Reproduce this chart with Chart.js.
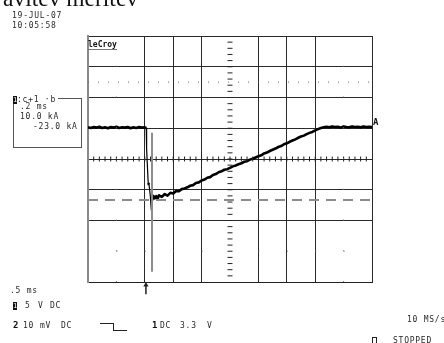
<!DOCTYPE html>
<html><head><meta charset="utf-8">
<script src="https://cdn.jsdelivr.net/npm/chart.js@4.4.0/dist/chart.umd.min.js"></script>
<style>
html,body{margin:0;padding:0;background:#fff;overflow:hidden;}
#wrap{position:relative;width:444px;height:343px;overflow:hidden;background:#fff;}
canvas{position:absolute;left:0;top:0;}
.t{position:absolute;font-family:"DejaVu Sans Mono",monospace;font-size:8px;line-height:8px;color:#2a2a2a;white-space:pre;letter-spacing:0.75px;}
.b{font-weight:bold;font-size:9px;color:#111;letter-spacing:0;}
.inv{position:absolute;background:#111;color:#fff;font-family:"DejaVu Sans Mono",monospace;font-size:7px;line-height:8px;width:4px;text-align:center;overflow:hidden;}
</style></head><body>
<div id="wrap">
<canvas id="c" width="444" height="343"></canvas>
<div style="position:absolute;left:3px;top:-12.7px;font-family:'Liberation Serif',serif;font-size:23.5px;line-height:23.5px;color:#111;white-space:pre;">avitev meritev</div>
<div class="t" style="left:12px;top:12px;">19-JUL-07</div>
<div class="t" style="left:12px;top:22px;">10:05:58</div>

<div style="position:absolute;left:13px;top:98px;width:67px;height:48px;border:1px solid #555;"></div>
<div class="inv" style="left:13px;top:96px;">1</div>
<div class="t" style="left:17px;top:96px;background:#fff;padding-right:2px;">:c+1 ·b</div>
<div class="t" style="left:20px;top:103px;">.2 ms</div>
<div class="t" style="left:20px;top:113px;">10.0 kA</div>
<div class="t" style="left:33px;top:123px;">-23.0 kA</div>

<div class="t b" style="left:88px;top:41px;font-size:8px;border-bottom:1px solid #777;padding-bottom:0px;">leCroy</div>
<div class="t b" style="left:373px;top:118px;font-size:9px;">A</div>

<div class="t" style="left:10px;top:287px;">.5 ms</div>
<div class="inv" style="left:13px;top:302px;">1</div>
<div class="t" style="left:25px;top:302px;">5</div>
<div class="t" style="left:38px;top:302px;">V</div>
<div class="t" style="left:50px;top:302px;">DC</div>

<div class="t b" style="left:13px;top:321px;">2</div>
<div class="t" style="left:23px;top:322px;">10</div>
<div class="t" style="left:40px;top:322px;">mV</div>
<div class="t" style="left:61px;top:322px;">DC</div>
<div style="position:absolute;left:100px;top:323px;width:13px;height:7px;border-top:1px solid #222;border-right:1px solid #222;"></div>
<div style="position:absolute;left:113px;top:330px;width:14px;height:0;border-top:1px solid #222;"></div>
<div class="t b" style="left:152px;top:321px;">1</div>
<div class="t" style="left:160px;top:322px;">DC</div>
<div class="t" style="left:180px;top:322px;">3.3</div>
<div class="t" style="left:207px;top:322px;">V</div>

<div class="t" style="left:407px;top:316px;">10 MS/s</div>
<div style="position:absolute;left:372px;top:337px;width:3px;height:7px;border:1px solid #222;"></div>
<div class="t" style="left:393px;top:337px;">STOPPED</div>
</div>
<script>
// time axis in ms (0.5 ms/div), current in kA relative to screen centre (10 kA/div)
const timeMs = [
 0.00,0.05,0.10,0.15,0.20,0.25,0.30,0.35,0.40,0.45,0.50,0.55,0.60,0.65,0.70,0.75,0.80,0.85,0.90,0.95,1.00,1.025,
 1.032,1.045,1.060,1.075,1.095,1.115,1.130,1.150,
 1.175,1.20,1.225,1.25,1.30,1.35,1.40,1.45,1.50,1.55,1.60,1.65,1.70,1.75,1.80,1.85,1.90,1.95,
 2.00,2.05,2.10,2.15,2.20,2.25,2.30,2.35,2.40,2.45,2.50,2.55,2.60,2.65,2.70,2.75,2.80,2.85,2.90,2.95,
 3.00,3.05,3.10,3.15,3.20,3.25,3.30,3.35,3.40,3.45,3.50,3.55,3.60,3.65,3.70,3.75,3.80,3.85,3.90,3.95,
 4.00,4.05,4.10,4.15,
 4.20,4.25,4.30,4.35,4.40,4.45,4.50,4.55,4.60,4.65,4.70,4.75,4.80,4.85,4.90,4.95,5.00
];
const currentKA = [
 10.3,10.1,10.4,10.2,10.5,10.1,10.3,10.0,10.4,10.2,10.5,10.1,10.3,10.2,10.4,10.0,10.3,10.1,10.4,10.2,10.3,10.1,
 3.3,-2.0,-7.8,-8.4,-11.6,-16.6,-13.4,-12.0,
 -12.8,-12.1,-12.9,-11.8,-12.3,-11.4,-11.9,-11.0,-11.2,-10.4,-10.5,-9.8,-9.6,-9.2,-8.7,-8.5,-7.8,-7.6,
 -7.0,-6.7,-6.1,-5.9,-5.2,-4.9,-4.3,-4.0,-3.5,-3.3,-2.9,-2.4,-2.1,-1.7,-1.4,-0.9,-0.7,-0.2,0.1,0.5,
 0.9,1.2,1.8,2.1,2.6,3.0,3.4,3.9,4.2,4.8,5.1,5.6,6.0,6.4,6.9,7.3,7.6,8.1,8.5,8.8,
 9.3,9.7,10.1,10.3,
 10.5,10.3,10.6,10.4,10.5,10.2,10.6,10.4,10.3,10.6,10.4,10.5,10.3,10.6,10.4,10.5,10.4
];
const cursorLevelKA = -13.3;
const cursorTimeMs = 1.127;
const cursorSpanKA = [8.5, -36.7];
const triggerTimeMs = 1.02;
const triggerArrowKA = [-41.0, -44.0];
const dottedRowKA = 25;
const faintRowKA = -30;
const faintColsMs = [0.5, 4.5];
const centreTimeMs = 2.5;
const axisTicksKA = [-38,-36,-34,-32,-30,-28,-26,-24,-22,-20,-18,-16,-14,-12,-10,-8,-6,-4,-2,0,2,4,6,8,10,12,14,16,18,20,22,24,26,28,30,32,34,36,38];
const axisTicksMs = [0.1,0.2,0.3,0.4,0.5,0.6,0.7,0.8,0.9,1.0,1.1,1.2,1.3,1.4,1.5,1.6,1.7,1.8,1.9,2.0,2.1,2.2,2.3,2.4,2.5,2.6,2.7,2.8,2.9,3.0,3.1,3.2,3.3,3.4,3.5,3.6,3.7,3.8,3.9,4.0,4.1,4.2,4.3,4.4,4.5,4.6,4.7,4.8,4.9];
const hiddenGridMs = [0.5, 2.5, 4.5];
const hiddenGridKA = [-30];

const trace = timeMs.map((t,i)=>({x:t,y:currentKA[i]}));

new Chart(document.getElementById('c'), {
  type:'scatter',
  data:{datasets:[
    {data:[{x:0,y:dottedRowKA},{x:5,y:dottedRowKA}],showLine:true,borderColor:'#666',borderWidth:1,borderDash:[1,9],pointRadius:0},
    {data:[{x:0,y:faintRowKA},{x:5,y:faintRowKA}],showLine:true,borderColor:'#777',borderWidth:1,borderDash:[1,27.4],pointRadius:0},
    {data:[{x:faintColsMs[0],y:-40},{x:faintColsMs[0],y:40}],showLine:true,borderColor:'#777',borderWidth:1,borderDash:[1,29.75],pointRadius:0},
    {data:[{x:faintColsMs[1],y:-40},{x:faintColsMs[1],y:40}],showLine:true,borderColor:'#777',borderWidth:1,borderDash:[1,29.75],pointRadius:0},
    {data:axisTicksKA.map(v=>({x:centreTimeMs,y:v})),showLine:false,pointStyle:'line',pointRadius:2.5,pointBorderWidth:1,pointBorderColor:'#222',pointBackgroundColor:'#222'},
    {data:axisTicksMs.map(v=>({x:v,y:0})),showLine:false,pointStyle:'line',rotation:90,pointRadius:2.5,pointBorderWidth:1,pointBorderColor:'#222',pointBackgroundColor:'#222'},
    {data:[{x:0,y:cursorLevelKA},{x:5,y:cursorLevelKA}],showLine:true,borderColor:'#8c8c8c',borderWidth:2,borderDash:[10,7],pointRadius:0},
    {data:[{x:cursorTimeMs,y:cursorSpanKA[0]},{x:cursorTimeMs,y:cursorSpanKA[1]}],showLine:true,borderColor:'#8c8c8c',borderWidth:2,pointRadius:0},
    {data:trace,showLine:true,borderColor:'#000',borderWidth:2.6,pointRadius:0,tension:0,borderJoinStyle:'round',
     segment:{borderWidth:ctx=>Math.abs(ctx.p1.parsed.y-ctx.p0.parsed.y)>3?1.2:2.6}},
    {data:[{x:triggerTimeMs,y:triggerArrowKA[0]},{x:triggerTimeMs,y:triggerArrowKA[1]}],showLine:true,clip:false,borderColor:'#222',borderWidth:1.5,
     pointStyle:'triangle',pointRadius:[3,0],pointBorderColor:'#222',pointBackgroundColor:'#222',pointBorderWidth:0}
  ]},
  options:{
    responsive:false,animation:false,devicePixelRatio:1,
    layout:{padding:{left:88,top:36,right:72,bottom:61}},
    plugins:{legend:{display:false},tooltip:{enabled:false}},
    scales:{
      x:{type:'linear',min:0,max:5,
         ticks:{display:false,stepSize:0.5},
         grid:{drawTicks:false,lineWidth:1,
           color:ctx=>{const v=ctx.tick?ctx.tick.value:null; if(v===0) return '#8a8a8a'; return hiddenGridMs.some(h=>Math.abs(h-v)<1e-6)?'rgba(0,0,0,0)':'#2a2a2a';}},
         border:{display:true,color:'#222',width:1}},
      y:{type:'linear',min:-40,max:40,
         ticks:{display:false,stepSize:10},
         grid:{drawTicks:false,lineWidth:1,
           color:ctx=>{const v=ctx.tick?ctx.tick.value:null; return hiddenGridKA.some(h=>Math.abs(h-v)<1e-6)?'rgba(0,0,0,0)':'#2a2a2a';}},
         border:{display:true,color:'#8a8a8a',width:2}}
    }
  }
});
</script>
</body></html>
